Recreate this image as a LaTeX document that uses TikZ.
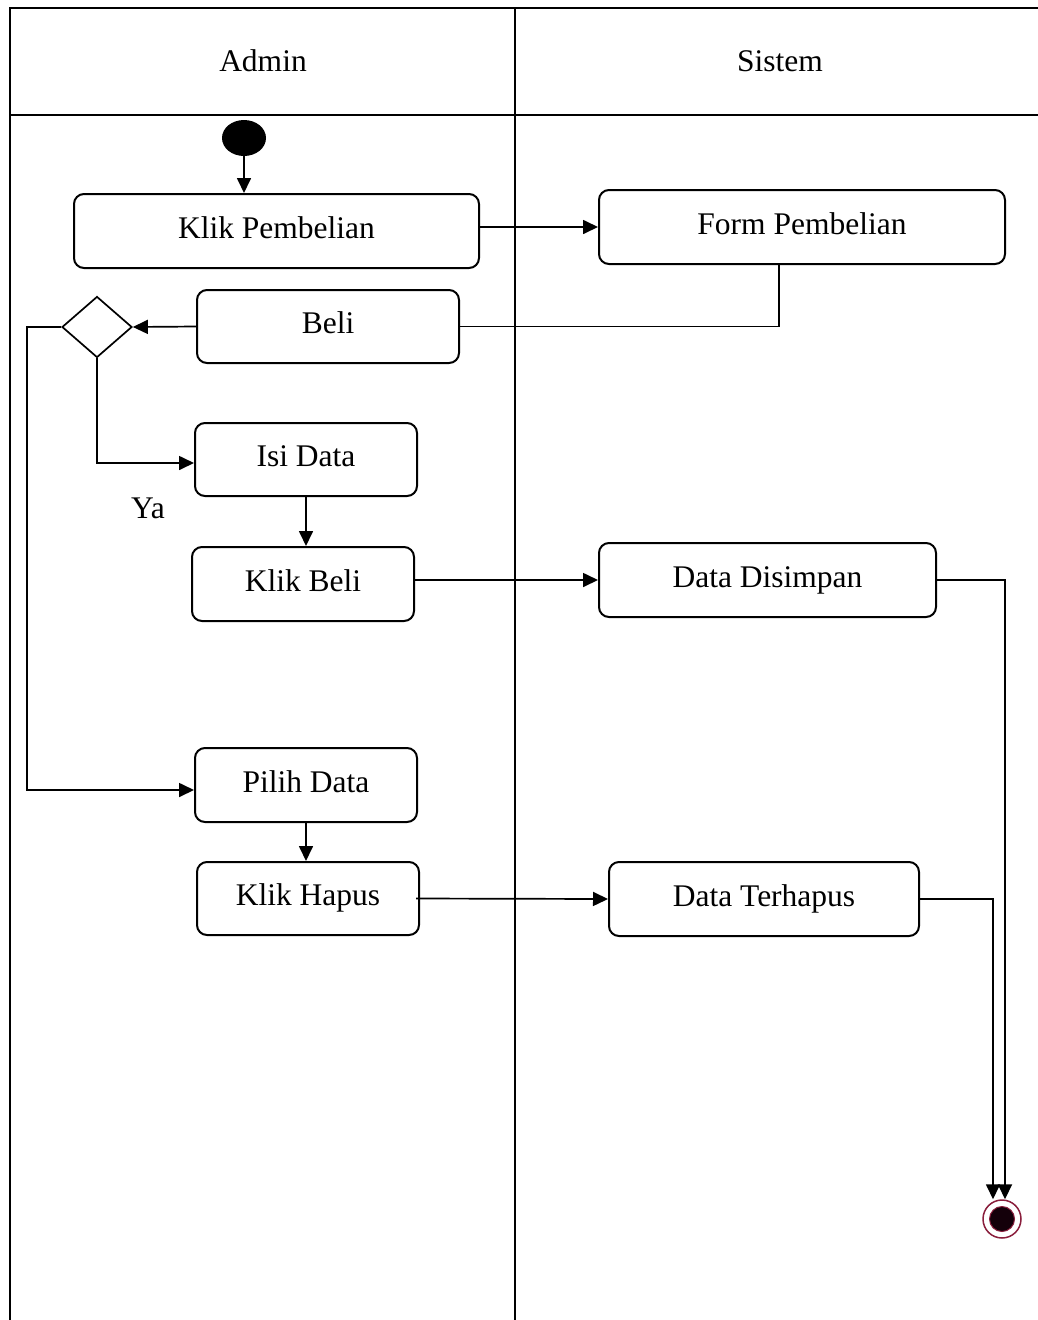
\documentclass[tikz,border=0pt]{standalone}
\usepackage{fontspec}
\setmainfont{Liberation Serif}
\usetikzlibrary{arrows.meta,shapes.geometric,calc}
\definecolor{endring}{HTML}{8A1E3C}
\definecolor{endcore}{HTML}{14000A}
\begin{document}
\begin{tikzpicture}[x=1pt,y=-1pt,
  font=\fontsize{31.5}{36}\selectfont,
  lane/.style={line width=1.4pt},
  act/.style={draw, rounded corners=10pt, line width=2pt, inner sep=0pt, anchor=center,
              text height=22pt, text depth=8pt},
  flow/.style={line width=1.7pt, -{Triangle[length=15pt,width=14pt]}},
  link/.style={line width=1.7pt},
  decision/.style={draw, diamond, line width=1.7pt, inner sep=0pt, minimum width=70pt, minimum height=61pt}]
\useasboundingbox (0,0) rectangle (1038,1320);

% swimlane frame
\draw[lane] (1038,8) -- (10,8) -- (10,1320);
\draw[lane] (10,115) -- (1038,115);
\draw[lane] (515,8) -- (515,1320);
\node (hadmin) at (263,61) {Admin};
\node (hsistem) at (780,61) {Sistem};

% start
\node[ellipse, fill=black, minimum width=44pt, minimum height=36pt, inner sep=0pt] (start) at (244,138) {};

% actions
\node[act, minimum width=405pt, minimum height=74pt] (kp) at (276.5,231) {Klik Pembelian};
\node[act, minimum width=406pt, minimum height=74pt] (fp) at (802,227) {Form Pembelian};
\node[act, minimum width=262pt, minimum height=73pt] (beli) at (328,326.5) {Beli};
\node[decision] (dec) at (97,327) {};
\node[act, minimum width=222pt, minimum height=73pt] (isi) at (306,459.5) {Isi Data};
\node (ya) at (148,508) {Ya};
\node[act, minimum width=222pt, minimum height=74pt] (kb) at (303,584) {Klik Beli};
\node[act, minimum width=337pt, minimum height=74pt] (dd) at (767.5,580) {Data Disimpan};
\node[act, minimum width=222pt, minimum height=74pt] (pilih) at (306,785) {Pilih Data};
\node[act, minimum width=222pt, minimum height=73pt] (kh) at (308,898.5) {Klik Hapus};
\node[act, minimum width=310pt, minimum height=74pt] (dt) at (764,899) {Data Terhapus};

% end
\node[circle, draw=endring, fill=white, line width=1.5pt, minimum size=38pt, inner sep=0pt] (end) at (1002,1219) {};
\node[circle, draw=endring, fill=endcore, line width=1pt, minimum size=25pt, inner sep=0pt] (endcore) at (end.center) {};
\coordinate (endL) at ($(end.north)+(-9,0)$);
\coordinate (endR) at ($(end.north)+(3,0)$);

% flows
\draw[flow] (start) -- (start |- kp.north);
\draw[flow] (kp.east |- fp.west) -- (fp.west);
\draw[link] ([xshift=-23pt]fp.south) |- (beli.east);
\draw[flow] (beli.west) -- (dec.east);
\draw[flow] (dec.south) |- ([yshift=-3.5pt]isi.west);
\coordinate (loop) at (27,327);
\draw[flow] (dec.west) -- (loop) |- ([yshift=-5pt]pilih.west);
\draw[flow] (isi.south) -- (isi.south |- kb.north);
\draw[flow] (kb.east |- dd.west) -- (dd.west);
\draw[flow] (pilih.south) -- (pilih.south |- kh.north);
\draw[flow] ([xshift=-4pt]kh.east) -- (dt.west);
\draw[flow, line width=2pt] (dd.east) -| (endR);
\draw[flow] (dt.east) -| (endL);
\end{tikzpicture}
\end{document}
